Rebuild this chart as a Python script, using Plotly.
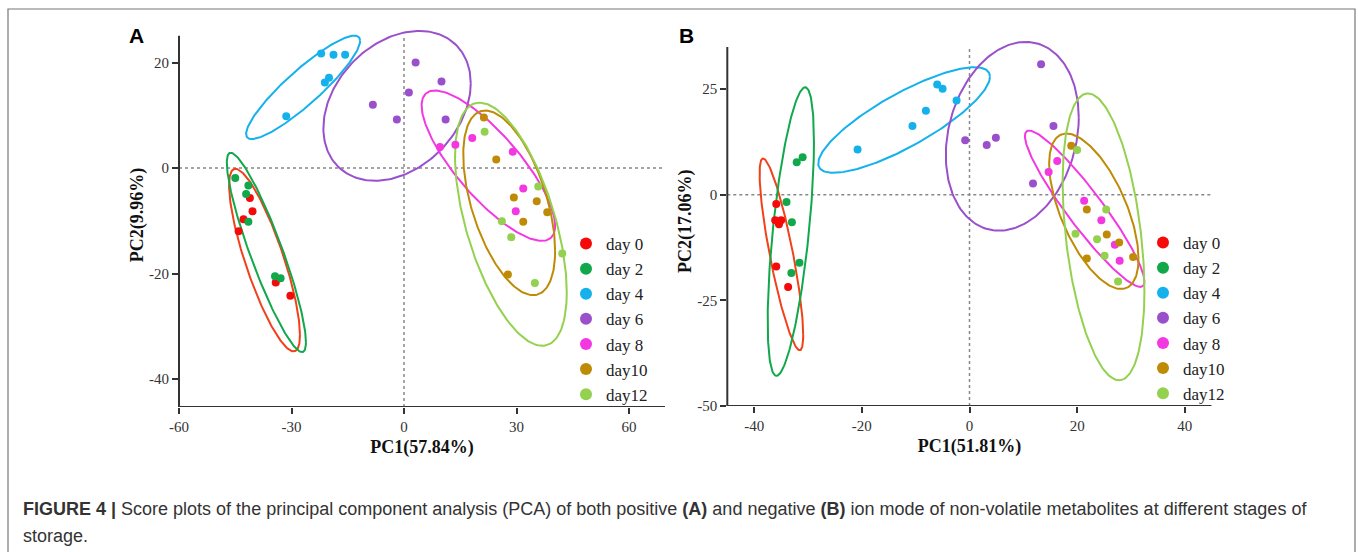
import numpy as np
import plotly.graph_objects as go

FIG_W, FIG_H = 1358, 552

GROUPS = ["day 0", "day 2", "day 4", "day 6", "day 8", "day10", "day12"]
POINT_COLORS = ["#F50A0A", "#10A84A", "#14B1EC", "#9A50CB", "#F338E2", "#BF8B06", "#93D14F"]
ELL_COLORS = ["#F2401A", "#10A84A", "#14B1EC", "#9A50CB", "#F338E2", "#BF8B06", "#93D14F"]

# ---------------- Panel A (positive ion mode) ----------------
A_PC1 = [
    [-41.1, -40.4, -42.8, -44.1, -34.2, -30.3],
    [-45.0, -41.5, -42.1, -41.5, -34.4, -32.9],
    [-22.1, -18.8, -15.7, -20.0, -21.1, -31.4],
    [3.1, 1.3, -8.3, -1.9, 10.0, 11.1],
    [9.6, 13.7, 18.2, 29.0, 31.8, 29.8],
    [21.3, 24.6, 29.3, 35.4, 38.2, 31.8, 27.7],
    [21.5, 35.8, 26.1, 28.6, 42.2, 34.9],
]
A_PC2 = [
    [-5.7, -8.2, -9.7, -12.0, -21.7, -24.2],
    [-1.9, -3.3, -4.9, -10.2, -20.5, -20.9],
    [21.7, 21.5, 21.5, 17.1, 16.2, 9.8],
    [20.0, 14.3, 12.0, 9.2, 16.4, 9.2],
    [4.0, 4.4, 5.7, 3.1, -3.9, -8.2],
    [9.6, 1.6, -5.6, -6.3, -8.4, -10.2, -20.2],
    [6.9, -3.5, -10.1, -13.1, -16.2, -21.8],
]
# confidence ellipses: centre, half-width, half-height, correlation
A_ELL_CX = [-37.2, -36.7, -26.9, -1.85, 22.5, 28.05, 28.5]
A_ELL_CY = [-17.45, -16.0, 15.3, 11.8, 0.45, -6.6, -10.65]
A_ELL_W = [9.45, 10.55, 15.2, 19.65, 17.8, 12.25, 14.9]
A_ELL_H = [17.3, 18.9, 9.8, 14.2, 14.25, 17.5, 23.05]
A_ELL_R = [-0.82, -0.90, 0.90, 0.30, -0.80, -0.52, -0.56]
A_XTICKS = [-60, -30, 0, 30, 60]
A_XTICK_LABELS = ["-60", "-30", "0", "30", "60"]
A_YTICKS = [-40, -20, 0, 20]
A_YTICK_LABELS = ["-40", "-20", "0", "20"]
A_XTITLE = "PC1(57.84%)"
A_YTITLE = "PC2(9.96%)"

# ---------------- Panel B (negative ion mode) ----------------
B_PC1 = [
    [-35.9, -36.1, -35.0, -35.4, -35.9, -33.7],
    [-32.1, -31.0, -34.0, -33.0, -31.6, -33.1],
    [-20.8, -10.6, -8.1, -6.0, -5.0, -2.4],
    [-0.8, 3.2, 4.9, 13.3, 15.6, 11.8],
    [16.3, 14.7, 21.3, 24.5, 27.0, 27.9],
    [18.9, 21.8, 25.5, 27.8, 30.4, 21.8],
    [20.0, 25.4, 19.7, 23.7, 25.1, 27.6],
]
B_PC2 = [
    [-2.2, -6.0, -6.0, -7.0, -17.0, -21.8],
    [7.7, 8.9, -1.7, -6.5, -16.1, -18.5],
    [10.7, 16.3, 19.9, 26.1, 25.1, 22.3],
    [12.9, 11.8, 13.5, 30.9, 16.3, 2.7],
    [8.0, 5.4, -1.4, -6.0, -11.8, -15.6],
    [11.6, -3.5, -9.4, -11.3, -14.7, -15.1],
    [10.6, -3.5, -9.2, -10.5, -14.4, -20.5],
]
B_ELL_CX = [-34.95, -33.2, -12.15, 7.95, 21.4, 23.1, 24.9]
B_ELL_CY = [-14.1, -8.7, 17.7, 13.85, -3.3, -3.9, -9.95]
B_ELL_W = [4.05, 4.3, 15.95, 12.35, 11.1, 8.3, 7.6]
B_ELL_H = [22.7, 34.15, 12.5, 22.35, 18.5, 18.4, 33.95]
B_ELL_R = [-0.84, 0.62, 0.82, 0.20, -0.93, -0.61, -0.38]
B_XTICKS = [-40, -20, 0, 20, 40]
B_XTICK_LABELS = ["-40", "-20", "0", "20", "40"]
B_YTICKS = [-50, -25, 0, 25]
B_YTICK_LABELS = ["-50", "-25", "0", "25"]
B_XTITLE = "PC1(51.81%)"
B_YTITLE = "PC2(17.06%)"

CAPTION_1 = ("<b>FIGURE 4 |</b> Score plots of the principal component analysis (PCA) of both positive "
             "<b>(A)</b> and negative <b>(B)</b> ion mode of non-volatile metabolites at different stages of")
CAPTION_2 = "storage."

SERIF = "Liberation Serif, Times New Roman, serif"
SANS = "Liberation Sans, Arial, sans-serif"
AX_COLOR = "#333333"


def px_x(p):
    return p / FIG_W


def px_y(p):
    return 1 - p / FIG_H


def ellipse(cx, cy, w, h, r, n=200):
    t = np.linspace(0, 2 * np.pi, n)
    x = cx + w * np.cos(t)
    y = cy + h * (r * np.cos(t) + np.sqrt(1 - r * r) * np.sin(t))
    return x, y


fig = go.Figure()

panels = [
    dict(px=A_PC1, py=A_PC2, cx=A_ELL_CX, cy=A_ELL_CY, w=A_ELL_W, h=A_ELL_H, r=A_ELL_R,
         xa="x", ya="y", legend="legend"),
    dict(px=B_PC1, py=B_PC2, cx=B_ELL_CX, cy=B_ELL_CY, w=B_ELL_W, h=B_ELL_H, r=B_ELL_R,
         xa="x2", ya="y2", legend="legend2"),
]

for p in panels:
    for i, g in enumerate(GROUPS):
        ex, ey = ellipse(p["cx"][i], p["cy"][i], p["w"][i], p["h"][i], p["r"][i])
        fig.add_trace(go.Scatter(x=ex, y=ey, mode="lines", line=dict(color=ELL_COLORS[i], width=2),
                                 xaxis=p["xa"], yaxis=p["ya"], showlegend=False, hoverinfo="skip"))
    for i, g in enumerate(GROUPS):
        fig.add_trace(go.Scatter(x=p["px"][i], y=p["py"][i], mode="markers", name=g,
                                 marker=dict(color=POINT_COLORS[i], size=8),
                                 xaxis=p["xa"], yaxis=p["ya"], legend=p["legend"]))

# axis ranges (data) and visible axis extents
A_XR = [-60, 69.6]
A_YAXIS = [-45.3, 25.1]
A_YR = [-45.3, 27.5]
B_XR = [-45, 45]
B_YAXIS = [-50, 35]
B_YR = [-50, 37.5]

tickfont = dict(family=SERIF, size=15, color=AX_COLOR)
titlefont = dict(family=SERIF, size=18, color="#111111")


def xaxis(domain, rng, ticks, labels, title, anchor):
    return dict(domain=domain, range=rng, tickvals=ticks, ticktext=labels, ticks="outside", ticklen=6,
                tickwidth=2, tickcolor=AX_COLOR, showgrid=False, zeroline=False, showline=False,
                anchor=anchor, automargin=False, tickfont=tickfont,
                title=dict(text="<b>%s</b>" % title, font=titlefont, standoff=6))


def yaxis(domain, rng, ticks, labels, title, anchor):
    return dict(domain=domain, range=rng, tickvals=ticks, ticktext=labels, ticks="outside", ticklen=6,
                tickwidth=2, tickcolor=AX_COLOR, showgrid=False, zeroline=False, showline=False,
                anchor=anchor, automargin=False, tickfont=tickfont,
                title=dict(text="<b>%s</b>" % title, font=titlefont, standoff=0))


fig.update_layout(
    width=FIG_W, height=FIG_H, margin=dict(l=0, r=0, t=0, b=0, pad=0, autoexpand=False),
    paper_bgcolor="white", plot_bgcolor="white",
    xaxis=xaxis([px_x(179), px_x(665)], A_XR, A_XTICKS, A_XTICK_LABELS, A_XTITLE, "y"),
    yaxis=yaxis([px_y(407), px_y(407 - (A_YR[1] - A_YR[0]) * 5.275)], A_YR, A_YTICKS, A_YTICK_LABELS,
                A_YTITLE, "x"),
    xaxis2=xaxis([px_x(727.3), px_x(1211.7)], B_XR, B_XTICKS, B_XTICK_LABELS, B_XTITLE, "y2"),
    yaxis2=yaxis([px_y(406), px_y(406 - (B_YR[1] - B_YR[0]) * 4.224)], B_YR, B_YTICKS, B_YTICK_LABELS,
                 B_YTITLE, "x2"),
    legend=dict(x=px_x(566), y=px_y(226), xanchor="left", yanchor="top", itemsizing="constant",
                font=dict(family=SERIF, size=17, color="#222222"), bgcolor="rgba(0,0,0,0)"),
    legend2=dict(x=px_x(1143), y=px_y(225), xanchor="left", yanchor="top", itemsizing="constant",
                 font=dict(family=SERIF, size=17, color="#222222"), bgcolor="rgba(0,0,0,0)"),
    showlegend=True,
)

shapes = []
for xa, ya, xr, yax in [("x", "y", A_XR, A_YAXIS), ("x2", "y2", B_XR, B_YAXIS)]:
    # zero reference lines
    shapes.append(dict(type="line", xref=xa, yref=ya, x0=0, x1=0, y0=yax[0], y1=yax[1],
                       line=dict(color="#888888", width=1.5, dash="dot"), layer="below"))
    shapes.append(dict(type="line", xref=xa, yref=ya, x0=xr[0], x1=xr[1], y0=0, y1=0,
                       line=dict(color="#888888", width=1.5, dash="dot"), layer="below"))
    # axis lines
    shapes.append(dict(type="line", xref=xa + " domain", yref=ya, x0=0, x1=0, y0=yax[0], y1=yax[1],
                       line=dict(color=AX_COLOR, width=2)))
    shapes.append(dict(type="line", xref=xa, yref=ya, x0=xr[0], x1=xr[1], y0=yax[0], y1=yax[0],
                       line=dict(color=AX_COLOR, width=2)))
# figure frame
shapes.append(dict(type="rect", xref="paper", yref="paper", x0=px_x(8), x1=px_x(1355),
                   y0=px_y(600), y1=px_y(9), line=dict(color="#777777", width=1.2)))
fig.update_layout(shapes=shapes)

annotations = [
    dict(text="<b>A</b>", x=px_x(136), y=px_y(36), xref="paper", yref="paper", showarrow=False,
         font=dict(family=SANS, size=21, color="black"), xanchor="center", yanchor="middle"),
    dict(text="<b>B</b>", x=px_x(686), y=px_y(36), xref="paper", yref="paper", showarrow=False,
         font=dict(family=SANS, size=21, color="black"), xanchor="center", yanchor="middle"),
    dict(text=CAPTION_1, x=px_x(21), y=px_y(509), xref="paper", yref="paper", showarrow=False,
         font=dict(family=SANS, size=18, color="#333333"), xanchor="left", yanchor="middle"),
    dict(text=CAPTION_2, x=px_x(21), y=px_y(536), xref="paper", yref="paper", showarrow=False,
         font=dict(family=SANS, size=18, color="#333333"), xanchor="left", yanchor="middle"),
]
fig.update_layout(annotations=annotations)

fig.write_html("out.html", config={"displayModeBar": False},
               post_script="document.body.style.margin='0px';")
